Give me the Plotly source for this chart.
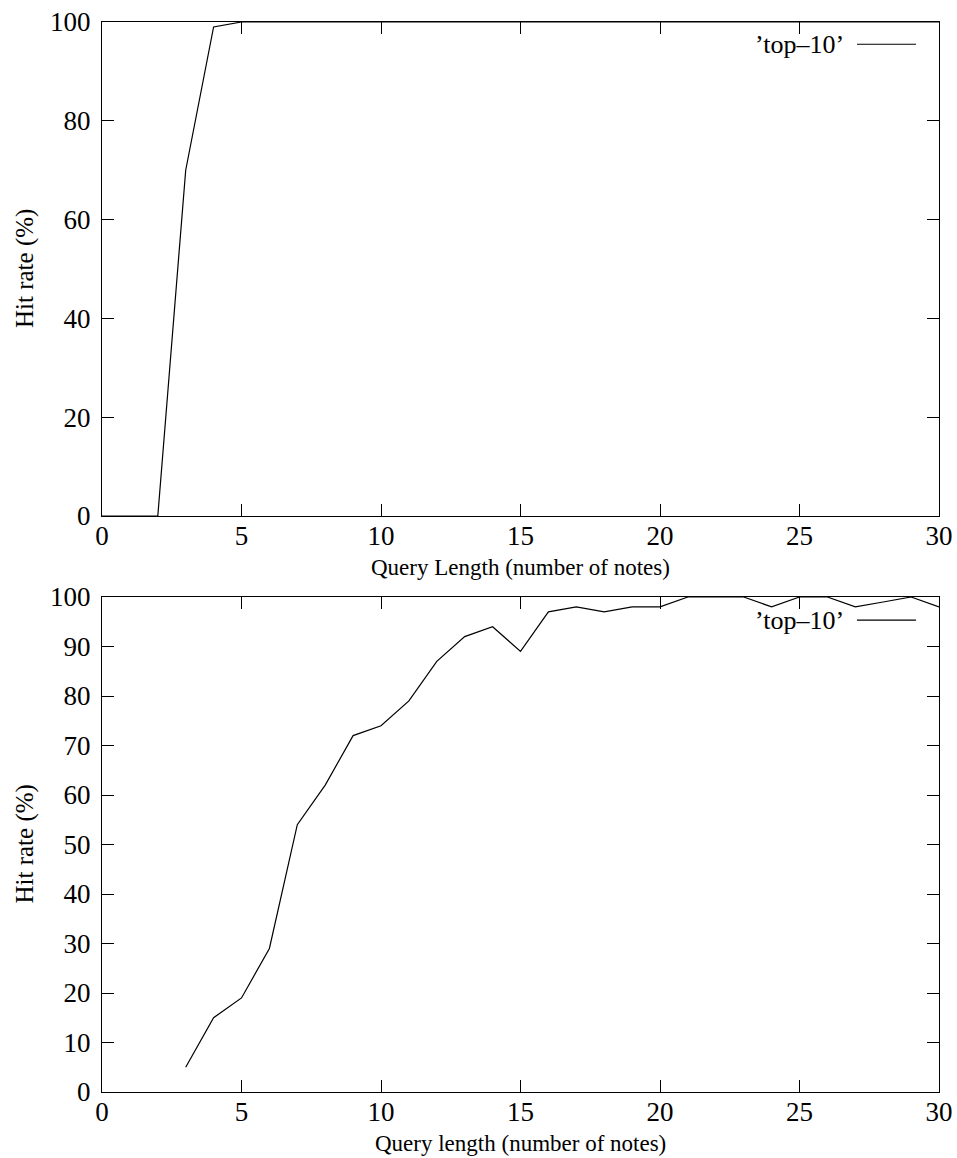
import plotly.graph_objects as go

# Top panel data
top_len = list(range(0, 31))
top_hit = [0, 0, 0, 70, 99, 100, 100, 100, 100, 100, 100,
           100, 100, 100, 100, 100, 100, 100, 100, 100, 100,
           100, 100, 100, 100, 100, 100, 100, 100, 100, 100]

# Bottom panel data
bot_len = list(range(3, 31))
bot_hit = [5, 15, 19, 29, 54, 62, 72, 74, 79, 87,
           92, 94, 89, 97, 98, 97, 98, 98, 100, 100,
           100, 98, 100, 100, 98, 99, 100, 98]

x_ticks = [0, 5, 10, 15, 20, 25, 30]
top_y_ticks = [0, 20, 40, 60, 80, 100]
bot_y_ticks = [0, 10, 20, 30, 40, 50, 60, 70, 80, 90, 100]

series_name = "\u2019top\u201310\u2019"
top_xtitle = "Query Length (number of notes)"
bot_xtitle = "Query length (number of notes)"
ytitle = "Hit rate (%)"

FONT = "Liberation Serif"
TFS = 27     # tick labels
XFS = 23     # x-axis titles
YFS = 25     # y-axis titles
KFS = 26     # key text

fig = go.Figure()
fig.add_trace(go.Scatter(x=top_len, y=top_hit, mode="lines",
                         line=dict(color="black", width=1.2),
                         xaxis="x", yaxis="y", showlegend=False, name=series_name))
fig.add_trace(go.Scatter(x=bot_len, y=bot_hit, mode="lines",
                         line=dict(color="black", width=1.2),
                         xaxis="x2", yaxis="y2", showlegend=False, name=series_name))

axis_common = dict(showline=True, linecolor="black", linewidth=1, mirror="allticks",
                   ticks="inside", ticklen=12, tickwidth=1, tickcolor="black",
                   showgrid=False, zeroline=False, automargin=False,
                   tickfont=dict(family=FONT, size=TFS, color="black"))

top_dom = [0.5383, 1.0]
bot_dom = [0.0, 0.4626]

fig.update_layout(
    template="none",
    width=957, height=1158,
    margin=dict(l=102, r=18, t=22, b=66, autoexpand=False),
    paper_bgcolor="white", plot_bgcolor="white",
    font=dict(family=FONT, size=TFS, color="black"),
    xaxis=dict(domain=[0, 1], anchor="y", range=[0, 30], tickvals=x_ticks,
               ticklabelstandoff=-4, **axis_common),
    yaxis=dict(domain=top_dom, anchor="x", range=[0, 100], tickvals=top_y_ticks,
               ticklabelstandoff=5, **axis_common),
    xaxis2=dict(domain=[0, 1], anchor="y2", range=[0, 30], tickvals=x_ticks,
                ticklabelstandoff=-4, **axis_common),
    yaxis2=dict(domain=bot_dom, anchor="x2", range=[0, 100], tickvals=bot_y_ticks,
                ticklabelstandoff=5, **axis_common),
    showlegend=False,
)

for xa, ya, xt in [("x", "y", top_xtitle), ("x2", "y2", bot_xtitle)]:
    # x-axis title
    fig.add_annotation(xref=f"{xa} domain", yref=f"{ya} domain", x=0.5, y=0,
                       text=xt, showarrow=False, xanchor="center", yanchor="middle",
                       yshift=-51, font=dict(family=FONT, size=XFS, color="black"))
    # y-axis title
    fig.add_annotation(xref=f"{xa} domain", yref=f"{ya} domain", x=0, y=0.5,
                       text=ytitle, showarrow=False, textangle=-90,
                       xanchor="center", yanchor="middle", xshift=-77,
                       font=dict(family=FONT, size=YFS, color="black"))

# gnuplot-style key: text then line sample, inside top-right of each panel
for xa, ya, yk in [("x", "y", 0.955), ("x2", "y2", 0.9535)]:
    fig.add_annotation(xref=f"{xa} domain", yref=f"{ya} domain", x=0.889, y=yk,
                       text=series_name, showarrow=False, xanchor="right", yanchor="middle",
                       font=dict(family=FONT, size=KFS, color="black"))
    fig.add_shape(type="line", xref=f"{xa} domain", yref=f"{ya} domain",
                  x0=0.902, x1=0.9725, y0=yk, y1=yk,
                  line=dict(color="black", width=1.2))

fig.write_html("out.html",
               post_script="document.body.style.margin='0';document.body.style.overflow='hidden';")
